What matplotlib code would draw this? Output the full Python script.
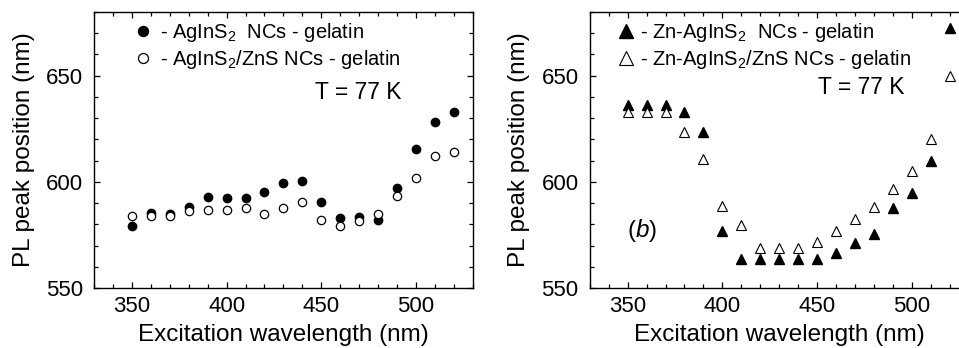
import matplotlib
matplotlib.use('Agg')
import matplotlib.pyplot as plt
from matplotlib.ticker import MultipleLocator

plt.rcParams['font.family'] = ['Liberation Sans', 'DejaVu Sans']
plt.rcParams['mathtext.fontset'] = 'custom'
plt.rcParams['mathtext.rm'] = 'Liberation Sans'
plt.rcParams['mathtext.it'] = 'Liberation Sans:italic'

# Daten
wavelength = [350, 360, 370, 380, 390, 400, 410, 420, 430, 440,
              450, 460, 470, 480, 490, 500, 510, 520]

ags_nc = [579.4, 585.1, 585.0, 588.2, 593.1, 592.6, 592.6, 595.4, 599.7, 600.6,
          590.6, 582.9, 583.3, 582.1, 597.3, 615.4, 628.1, 632.9]
ags_zns = [584.0, 584.0, 584.0, 586.3, 586.8, 586.8, 587.7, 584.9, 587.6, 590.6,
           582.1, 579.4, 581.4, 584.9, 593.4, 602.0, 612.3, 614.0]

zn_ags_nc = [636.2, 636.2, 636.2, 632.7, 623.3, 576.9, 563.8, 563.8, 563.8, 563.8,
             563.8, 566.4, 571.4, 575.3, 587.9, 594.8, 609.6, 672.5]
zn_ags_zns = [632.7, 632.7, 632.7, 623.4, 611.0, 588.7, 579.6, 569.0, 569.0, 569.0,
              571.7, 577.0, 582.5, 588.0, 596.7, 605.2, 620.4, 649.7]

fig = plt.figure(figsize=(9.59, 3.48), dpi=100)
ax1 = fig.add_axes([0.098, 0.1724, 0.395, 0.793])
# rechtes Panel ragt wie im Original etwas über den Bildrand hinaus
ax2 = fig.add_axes([0.615, 0.1724, 0.395, 0.793])


def style_axes(ax):
    ax.set_xlim(330, 530)
    ax.set_ylim(550, 680)
    ax.xaxis.set_major_locator(MultipleLocator(50))
    ax.xaxis.set_minor_locator(MultipleLocator(10))
    ax.yaxis.set_major_locator(MultipleLocator(50))
    ax.yaxis.set_minor_locator(MultipleLocator(10))
    ax.tick_params(which='both', direction='in', top=True, right=True,
                   labelsize=16, width=0.9)
    ax.tick_params(which='major', length=4.5)
    ax.tick_params(which='minor', length=3)
    ax.tick_params(axis='x', pad=6)
    ax.tick_params(axis='y', pad=8)
    for s in ax.spines.values():
        s.set_linewidth(1.0)
    ax.set_xlabel('Excitation wavelength (nm)', fontsize=17.5, labelpad=5)
    ax.set_ylabel('PL peak position (nm)', fontsize=17.5, labelpad=8)


# Linkes Panel
ax1.plot(wavelength, ags_nc, 'o', ms=6, mfc='black', mec='black',
         label='- AgInS$_2$  NCs - gelatin')
ax1.plot(wavelength, ags_zns, 'o', ms=6, mfc='white', mec='black', mew=0.9,
         label='- AgInS$_2$/ZnS NCs - gelatin')
style_axes(ax1)
ax1.legend(loc='upper left', bbox_to_anchor=(0.103, 0.968), frameon=False,
           fontsize=14.5, handlelength=1.0, handletextpad=0.35,
           labelspacing=0.22, borderaxespad=0, borderpad=0, markerscale=1.2)
ax1.text(0.583, 0.71, 'T = 77 K', transform=ax1.transAxes, fontsize=16.5,
         va='center')

# Rechtes Panel
ax2.plot(wavelength, zn_ags_nc, '^', ms=7.5, mfc='black', mec='black',
         label='- Zn-AgInS$_2$  NCs - gelatin')
ax2.plot(wavelength, zn_ags_zns, '^', ms=7.5, mfc='white', mec='black', mew=0.8,
         label='- Zn-AgInS$_2$/ZnS NCs - gelatin')
style_axes(ax2)
ax2.legend(loc='upper left', bbox_to_anchor=(0.07, 0.968), frameon=False,
           fontsize=14.5, handlelength=1.0, handletextpad=0.18,
           labelspacing=0.22, borderaxespad=0, borderpad=0, markerscale=1.25)
ax2.text(0.602, 0.725, 'T = 77 K', transform=ax2.transAxes, fontsize=16.5,
         va='center')
ax2.text(0.098, 0.21, '($b$)', transform=ax2.transAxes, fontsize=17.5,
         va='center')

fig.savefig('out.png', dpi=100)
plt.close()
